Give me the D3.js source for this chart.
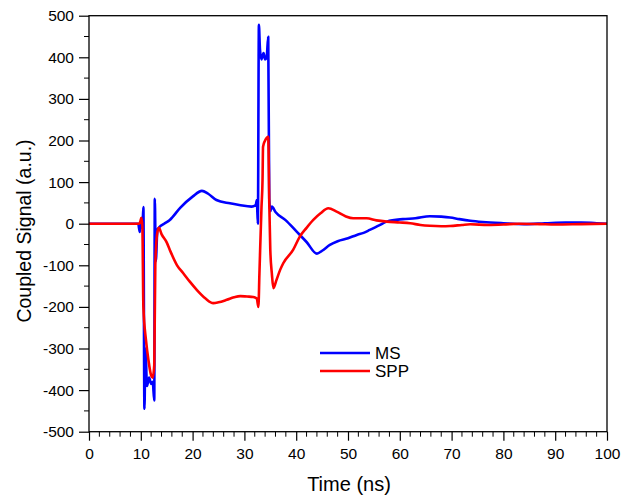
<!DOCTYPE html>
<html>
<head>
<meta charset="utf-8">
<script src="https://cdn.jsdelivr.net/npm/d3@7"></script>
<style>
	body { margin: 0; background: #fff; }
	text { font-family: Arial, "Liberation Sans", sans-serif; fill: #000; }
</style>
</head>
<body>
<svg id="chart" width="636" height="498"></svg>
<script>

// MS trace (blue)
var msTime = [0, 9.5, 9.8, 10.0, 10.3, 10.5, 10.7, 10.9, 11.2, 11.6, 12.0, 12.3, 12.6, 12.7, 12.9, 13.2, 13.6, 14.5, 15.6, 17.6, 20, 21.8, 23, 24.6, 27.2, 29, 31.4, 32.2, 32.4, 32.6, 32.8, 33.0, 33.3, 33.7, 34.0, 34.3, 34.6, 34.8, 35.0, 35.3, 36, 38, 40, 42, 44, 45, 46.5, 48, 50, 51.7, 53, 54.2, 56, 57.5, 60.6, 63, 65.8, 68, 69.7, 71.5, 73.6, 76, 80, 84, 88, 92, 95, 98, 100];
var msValues = [0, 0, -20, 5, -10, 40, -445, -300, -390, -370, -385, -380, -425, 60, -90, -15, -8, 0, 9, 38, 65, 79, 72, 57, 49, 45, 41, 45, 57, 0, 478, 420, 395, 410, 395, 400, 449, 60, 30, 41, 28, 8, -18, -44, -72, -65, -51, -42, -35, -27, -22, -15, -4, 5, 11, 13, 18, 17, 15, 11, 7, 4, 1, -1, 1, 3, 3, 1, 0];

// SPP trace (red)
var sppTime = [0, 9.7, 9.9, 10.1, 10.3, 10.5, 11.0, 11.5, 12.0, 12.3, 12.6, 12.8, 13.2, 13.5, 14, 15, 15.6, 17, 18.2, 19.5, 20.8, 22.5, 24, 25, 26.6, 28, 29.2, 30.5, 31.7, 32.4, 32.7, 32.9, 33.3, 33.5, 33.6, 34, 34.6, 34.8, 35.0, 35.3, 35.6, 36.2, 36.9, 37.5, 39.4, 40.7, 42, 43.3, 44.7, 46.2, 47.8, 49.5, 51, 53.6, 55.5, 57.5, 60, 62, 64, 65.8, 68, 69.7, 72, 73.6, 77, 80, 83, 87, 90, 95, 100];
var sppValues = [0, 0, 5, 14, -5, -200, -280, -330, -365, -370, -340, -100, -20, -10, -25, -45, -63, -100, -119, -140, -159, -180, -191, -189, -183, -177, -174, -175, -176, -180, -200, -120, 40, 105, 185, 200, 209, 50, -63, -120, -155, -135, -111, -95, -63, -31, -10, 9, 25, 37, 29, 18, 13, 13, 8, 5, 3, 1, -3, -5, -6, -5.5, -3, -1.5, -3, -2, 0, -1, -2, -1, 0];

var xTicks = [0, 10, 20, 30, 40, 50, 60, 70, 80, 90, 100];
var yTicks = [-500, -400, -300, -200, -100, 0, 100, 200, 300, 400, 500];

var seriesNames = ["MS", "SPP"];
var seriesColors = ["#0000ff", "#ff0000"];

var svg = d3.select("#chart");

var plotLeft = 89, plotRight = 607, plotTop = 15.7, plotBottom = 431.7;

var x = d3.scaleLinear().domain([0, 100]).range([plotLeft, plotRight]);
var y = d3.scaleLinear().domain([-500, 500]).range([plotBottom, plotTop]);

function toPoints(ts, vs){
	return ts.map(function(t, i){ return [t, vs[i]]; });
}

var line = d3.line()
	.curve(d3.curveMonotoneX)
	.x(function(d){ return x(d[0]); })
	.y(function(d){ return y(d[1]); });

// traces
var traces = [toPoints(msTime, msValues), toPoints(sppTime, sppValues)];

svg.append("g").selectAll("path")
	.data(traces)
	.enter().append("path")
	.attr("d", line)
	.attr("fill", "none")
	.attr("stroke", function(d, i){ return seriesColors[i]; })
	.attr("stroke-width", 2.6)
	.attr("stroke-linejoin", "round");

// frame
svg.append("rect")
	.attr("x", plotLeft).attr("y", plotTop)
	.attr("width", plotRight - plotLeft).attr("height", plotBottom - plotTop)
	.attr("fill", "none")
	.attr("stroke", "#000")
	.attr("stroke-width", 1.3);

// plain hyphen for negatives, like the original
var plain = function(d){ return String(d); };

// x axis with minor ticks
var xMinor = d3.range(0, 101, 2).filter(function(v){ return v % 10 != 0; });
var xAxis = svg.append("g").attr("transform", "translate(0," + plotBottom + ")");
xAxis.call(d3.axisBottom(x).tickValues(xTicks).tickSize(9).tickPadding(7).tickFormat(plain));
xAxis.append("g").selectAll("line")
	.data(xMinor)
	.enter().append("line")
	.attr("x1", function(d){ return x(d); })
	.attr("x2", function(d){ return x(d); })
	.attr("y1", 0).attr("y2", 5)
	.attr("stroke", "#000");

// y axis with minor ticks
var yMinor = d3.range(-450, 500, 100);
var yAxis = svg.append("g").attr("transform", "translate(" + plotLeft + ",0)");
yAxis.call(d3.axisLeft(y).tickValues(yTicks).tickSize(10).tickPadding(5).tickFormat(plain));
yAxis.append("g").selectAll("line")
	.data(yMinor)
	.enter().append("line")
	.attr("y1", function(d){ return y(d); })
	.attr("y2", function(d){ return y(d); })
	.attr("x1", 0).attr("x2", -5)
	.attr("stroke", "#000");

svg.selectAll(".domain").remove();
svg.selectAll(".tick line").attr("stroke", "#000").attr("stroke-width", 1.2);
svg.selectAll(".tick text")
	.style("font-family", "Arial, 'Liberation Sans', sans-serif")
	.style("font-size", "15.5px")
	.attr("fill", "#000");

// axis titles
svg.append("text")
	.attr("x", 349)
	.attr("y", 491)
	.attr("text-anchor", "middle")
	.style("font-size", "20px")
	.text("Time (ns)");

svg.append("text")
	.attr("transform", "translate(31,231) rotate(-90)")
	.attr("text-anchor", "middle")
	.style("font-size", "19.5px")
	.text("Coupled Signal (a.u.)");

// legend
var legend = svg.append("g").attr("transform", "translate(320,353)");
var item = legend.selectAll("g")
	.data(seriesNames)
	.enter().append("g")
	.attr("transform", function(d, i){ return "translate(0," + (i * 18) + ")"; });

item.append("line")
	.attr("x1", 0).attr("x2", 50)
	.attr("stroke", function(d, i){ return seriesColors[i]; })
	.attr("stroke-width", 2.6);

item.append("text")
	.attr("x", 55)
	.attr("y", 6)
	.style("font-size", "17px")
	.text(function(d){ return d; });

</script>
</body>
</html>
